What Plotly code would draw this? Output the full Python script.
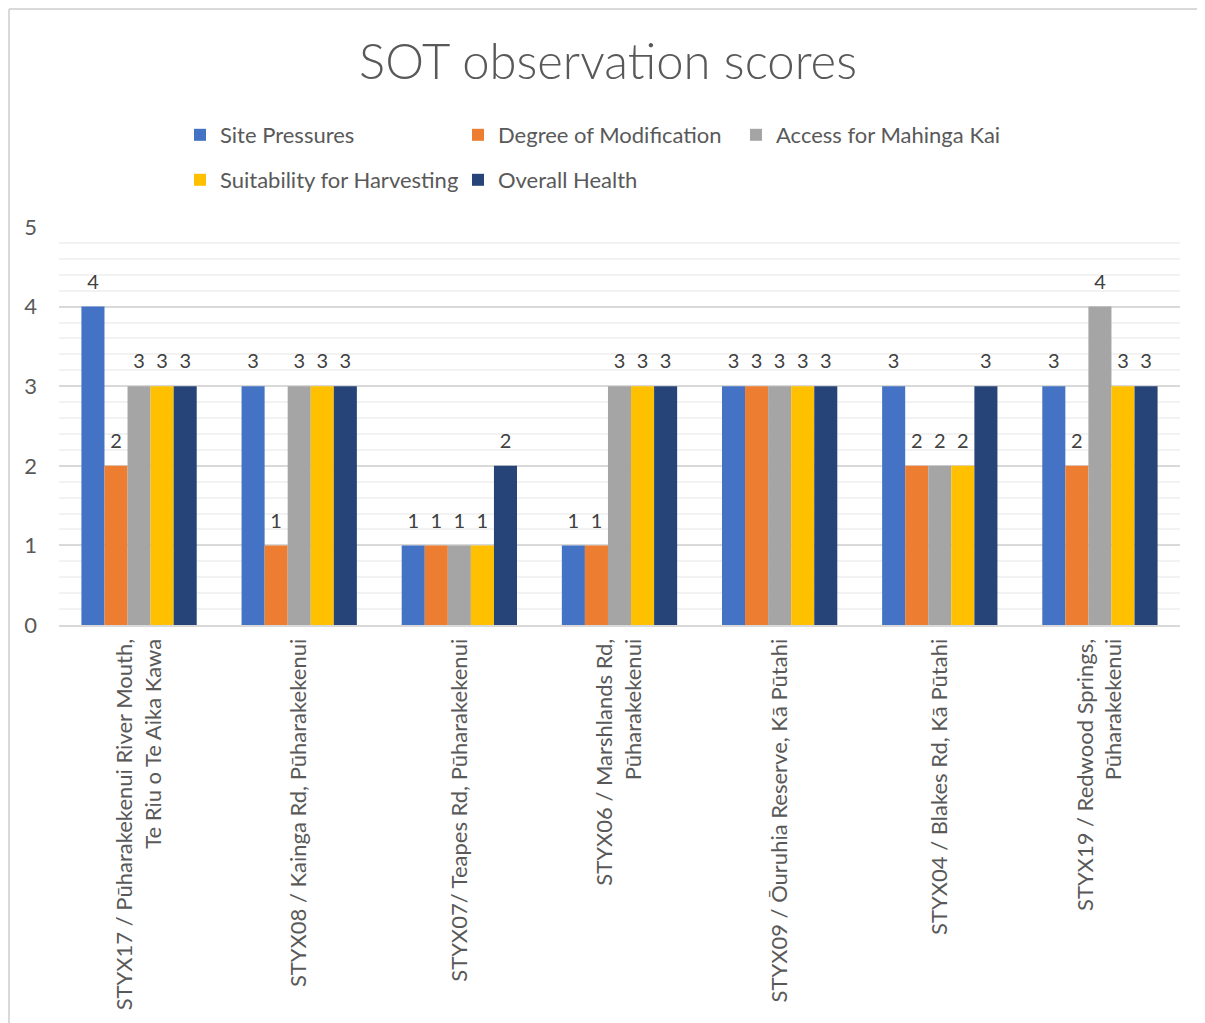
import plotly.graph_objects as go

categories = [
    "STYX17 / Pūharakekenui River Mouth,<br>Te Riu o Te Aika Kawa",
    "STYX08 / Kainga Rd, Pūharakekenui",
    "STYX07/ Teapes Rd, Pūharakekenui",
    "STYX06 / Marshlands Rd,<br>Pūharakekenui",
    "STYX09 / Ōuruhia Reserve, Kā Pūtahi",
    "STYX04 / Blakes Rd, Kā Pūtahi",
    "STYX19 / Redwood Springs,<br>Pūharakekenui",
]
site_pressures = [4, 3, 1, 1, 3, 3, 3]
degree_of_modification = [2, 1, 1, 1, 3, 2, 2]
access_for_mahinga_kai = [3, 3, 1, 3, 3, 2, 4]
suitability_for_harvesting = [3, 3, 1, 3, 3, 2, 3]
overall_health = [3, 3, 2, 3, 3, 3, 3]

series = [
    ("Site Pressures", site_pressures, "#4472C4", "legend"),
    ("Degree of Modification", degree_of_modification, "#ED7D31", "legend"),
    ("Access for Mahinga Kai", access_for_mahinga_kai, "#A5A5A5", "legend"),
    ("Suitability for Harvesting", suitability_for_harvesting, "#FFC000", "legend2"),
    ("Overall Health", overall_health, "#264478", "legend2"),
]

FONT = "Lato"
TXT = "#595959"

fig = go.Figure()
for name, vals, color, lg in series:
    fig.add_trace(go.Bar(
        x=categories, y=vals, name=name, marker=dict(color=color, line=dict(width=0)),
        legend=lg,
    ))
for name, vals, color, lg in series:
    fig.add_trace(go.Scatter(
        x=categories, y=vals, mode="markers+text", text=[str(v) for v in vals],
        textposition="top center", textfont=dict(family=FONT, size=20, color="#404040"),
        marker=dict(size=19, opacity=0), showlegend=False, hoverinfo="skip",
        cliponaxis=False,
    ))

# page has an 8px body margin; reference coords are screen coords
OFF = 8
W, H = 1205 - OFF, 1023 - OFF
plot_left, plot_right, plot_top, plot_bottom = 59, 1180, 227, 625
pw, ph = plot_right - plot_left, plot_bottom - plot_top
ml, mt = plot_left - OFF, plot_top - OFF
mr, mb = W - ml - pw, H - mt - ph

def px_x(p):
    return (p - plot_left) / pw

def px_y(p):
    return (plot_bottom - p) / ph

legend_common = dict(orientation="h", x=px_x(180), xanchor="left", yanchor="middle",
                     entrywidth=233, font=dict(family=FONT, size=22, color=TXT),
                     itemwidth=30, bgcolor="rgba(0,0,0,0)", traceorder="normal")

border = dict(color="#d9d9d9", width=2)

fig.update_layout(
    width=W, height=H,
    margin=dict(l=ml, r=mr, t=mt, b=mb, autoexpand=False),
    paper_bgcolor="white", plot_bgcolor="white",
    barmode="group", bargap=0.28, bargroupgap=0,
    scattermode="group", scattergap=0.28,
    font=dict(family=FONT, color=TXT),
    title=dict(text="SOT observation scores", x=px_x(608), xref="paper", xanchor="center",
               y=1 - (62 - OFF) / H, yanchor="middle",
               font=dict(family=FONT, size=49, color=TXT, weight=300)),
    legend=dict(y=px_y(135), **legend_common),
    legend2=dict(y=px_y(180), **legend_common),
    xaxis=dict(type="category", showgrid=False, showline=True, linecolor="#d9d9d9", linewidth=2,
               tickangle=-90, tickfont=dict(family=FONT, size=22, color=TXT),
               ticks="", ticklabelstandoff=3, zeroline=False),
    yaxis=dict(range=[0, 5], dtick=1, showgrid=True, gridcolor="#d9d9d9", gridwidth=2,
               zeroline=False, showline=False, ticks="",
               tickfont=dict(family=FONT, size=22, color=TXT), ticklabelstandoff=21,
               minor=dict(dtick=0.2, showgrid=True, gridcolor="#f2f2f2", gridwidth=2)),
    shapes=[
        dict(type="line", xref="paper", yref="paper",
             x0=px_x(OFF + 1), x1=px_x(OFF + 1), y0=px_y(1040), y1=px_y(OFF + 1),
             line=border, layer="below"),
        dict(type="line", xref="paper", yref="paper",
             x0=px_x(OFF + 1), x1=px_x(1220), y0=px_y(OFF + 1), y1=px_y(OFF + 1),
             line=border, layer="below"),
    ],
)

fig.write_html("out.html")
